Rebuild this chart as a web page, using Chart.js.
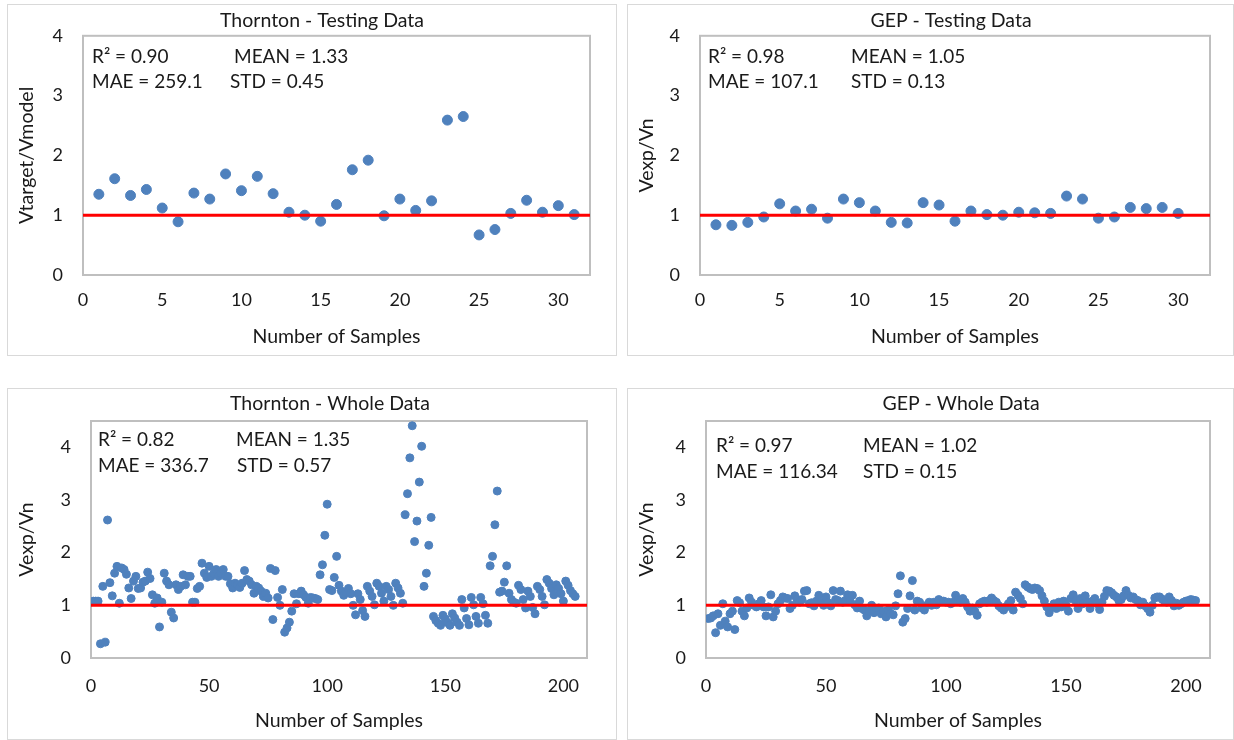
<!DOCTYPE html>
<html>
<head>
<meta charset="utf-8">
<script src="https://cdn.jsdelivr.net/npm/chart.js@4.4.0/dist/chart.umd.min.js"></script>
<style>
  body { margin: 0; background: #fff; width: 1234px; height: 740px; overflow: hidden; position: relative; }
  .panel { position: absolute; border: 1px solid #d9d9d9; background: #fff; }
  canvas { display: block; }
</style>
</head>
<body>
<div class="panel" style="left:7px;top:4px;width:608px;height:350px"><canvas id="thorntonTest" width="608" height="350"></canvas></div>
<div class="panel" style="left:627px;top:4px;width:605px;height:350px"><canvas id="gepTest" width="605" height="350"></canvas></div>
<div class="panel" style="left:7px;top:388px;width:608px;height:350px"><canvas id="thorntonWhole" width="608" height="350"></canvas></div>
<div class="panel" style="left:627px;top:388px;width:605px;height:350px"><canvas id="gepWhole" width="605" height="350"></canvas></div>
<script>
// -------------------------------------------------------------------
// Data (ratio per sample, sample number = index + 1)
// -------------------------------------------------------------------
const thorntonTest = [1.35, 1.61, 1.33, 1.43, 1.12, 0.89, 1.37, 1.27, 1.69, 1.41,
  1.65, 1.36, 1.05, 1.00, 0.90, 1.18, 1.76, 1.92, 0.99, 1.27,
  1.08, 1.24, 2.59, 2.65, 0.67, 0.76, 1.03, 1.25, 1.05, 1.16, 1.01];

const gepTest = [0.84, 0.83, 0.88, 0.97, 1.19, 1.07, 1.10, 0.95, 1.27, 1.21,
  1.07, 0.88, 0.87, 1.21, 1.17, 0.90, 1.07, 1.01, 1.00, 1.05,
  1.04, 1.03, 1.32, 1.27, 0.95, 0.97, 1.13, 1.11, 1.13, 1.03];

const thorntonWhole = [
  1.08, 1.08, 1.08, 0.27, 1.36, 0.30, 2.62, 1.43, 1.18, 1.61,
  1.74, 1.04, 1.71, 1.68, 1.59, 1.33, 1.13, 1.46, 1.55, 1.32,
  1.33, 1.44, 1.46, 1.63, 1.51, 1.20, 1.04, 1.14, 0.59, 1.06,
  1.61, 1.46, 1.39, 0.87, 0.76, 1.39, 1.30, 1.36, 1.58, 1.39,
  1.55, 1.55, 1.06, 1.06, 1.32, 1.36, 1.80, 1.61, 1.53, 1.74,
  1.55, 1.61, 1.68, 1.55, 1.61, 1.68, 1.55, 1.55, 1.41, 1.33,
  1.42, 1.39, 1.34, 1.42, 1.66, 1.49, 1.46, 1.39, 1.23, 1.36,
  1.33, 1.27, 1.17, 1.23, 1.14, 1.70, 0.73, 1.66, 1.15, 1.00,
  1.30, 0.49, 0.57, 0.68, 0.89, 1.22, 1.03, 1.22, 1.27, 1.20,
  1.15, 1.04, 1.15, 1.14, 1.13, 1.11, 1.58, 1.77, 2.33, 2.92,
  1.30, 1.28, 1.53, 1.93, 1.38, 1.27, 1.19, 1.25, 1.32, 1.22,
  1.00, 0.82, 1.22, 1.11, 0.90, 0.79, 1.36, 1.27, 1.17, 1.01,
  1.42, 1.36, 1.23, 1.08, 1.36, 1.30, 1.17, 1.00, 1.42, 1.33,
  1.23, 1.04, 2.72, 3.12, 3.80, 4.41, 2.21, 2.60, 3.34, 4.02,
  1.36, 1.61, 2.14, 2.67, 0.79, 0.71, 0.66, 0.62, 0.81, 0.74,
  0.67, 0.62, 0.84, 0.76, 0.68, 0.62, 1.11, 0.95, 0.75, 0.63,
  1.15, 1.01, 0.79, 0.66, 1.15, 1.03, 0.81, 0.66, 1.75, 1.93,
  2.53, 3.17, 1.25, 1.27, 1.44, 1.75, 1.23, 1.11, 1.06, 1.04,
  1.38, 1.30, 1.11, 0.95, 1.27, 1.17, 0.96, 0.84, 1.36, 1.30,
  1.17, 1.01, 1.49, 1.42, 1.32, 1.20, 1.39, 1.32, 1.22, 1.08,
  1.46, 1.38, 1.28, 1.22, 1.17];

const gepWhole = [
  0.75, 0.76, 0.80, 0.48, 0.84, 0.62, 1.03, 0.70, 0.59, 0.84,
  0.89, 0.54, 1.09, 1.05, 0.89, 0.80, 0.95, 1.14, 1.06, 1.00,
  0.97, 1.03, 1.09, 0.97, 0.80, 0.97, 1.20, 0.78, 0.89, 1.03,
  1.09, 1.16, 1.14, 1.13, 0.94, 1.00, 1.18, 1.11, 1.06, 1.11,
  1.27, 1.28, 1.03, 1.05, 0.99, 1.08, 1.19, 1.06, 1.00, 1.16,
  1.05, 0.99, 1.28, 1.11, 1.09, 1.27, 1.06, 1.09, 1.20, 1.08,
  1.19, 1.01, 0.95, 1.08, 0.94, 0.91, 0.80, 0.89, 1.00, 0.86,
  0.94, 0.95, 0.84, 0.89, 0.78, 0.91, 0.84, 0.82, 0.99, 1.22,
  1.56, 0.68, 0.75, 0.94, 1.18, 1.47, 0.91, 1.08, 1.06, 0.95,
  0.91, 1.00, 1.06, 1.00, 1.06, 1.01, 1.11, 1.08, 1.08, 1.06,
  1.06,
  1.03, 1.06, 1.19, 1.09, 1.06, 1.13, 1.06, 0.97, 0.89, 0.95,
  0.89, 0.81, 1.03, 1.06, 1.08, 1.06, 1.09, 1.14, 1.09, 1.06,
  0.99, 0.95, 0.91, 0.97, 1.03, 1.09, 0.91, 1.25, 1.19, 1.13,
  1.03, 1.39, 1.35, 1.32, 1.30, 1.33, 1.32, 1.28, 1.18, 1.08, 0.97,
  0.86, 0.97, 1.03, 0.94, 1.06, 0.97, 1.08, 1.00, 0.89, 1.13,
  1.20, 1.09, 0.94, 1.13, 1.03, 1.18, 1.06, 0.94, 1.08, 1.13,
  1.03, 0.92, 1.06, 1.17, 1.28, 1.27, 1.24, 1.19, 1.16, 1.09, 1.11,
  1.18, 1.28, 1.19, 1.14, 1.16, 1.11, 1.09, 1.01, 1.06, 0.99,
  0.94, 0.87, 1.00, 1.14, 1.16, 1.16, 1.12, 1.08, 1.06, 1.16, 1.09, 0.99, 1.04,
  1.00, 1.03, 1.06, 1.08, 1.09, 1.11, 1.10, 1.09];

const thorntonTestStats  = ["R² = 0.90", "MEAN = 1.33", "MAE = 259.1", "STD = 0.45"];
const gepTestStats       = ["R² = 0.98", "MEAN = 1.05", "MAE = 107.1", "STD = 0.13"];
const thorntonWholeStats = ["R² = 0.82", "MEAN = 1.35", "MAE = 336.7", "STD = 0.57"];
const gepWholeStats      = ["R² = 0.97", "MEAN = 1.02", "MAE = 116.34", "STD = 0.15"];

const REF_RATIO = 1;

// -------------------------------------------------------------------
// Style
// -------------------------------------------------------------------
const FONT  = "Lato, 'Open Sans', sans-serif";
const TEXT  = "#1a1a1a";
const BLUE  = "#4f81bd";
const RED   = "#ff0000";
const FRAME = "#bfbfbf";

function toPoints(vals) {
  return vals.map((v, i) => ({ x: i + 1, y: v }));
}

// plot frame, chart title and the R2 / MEAN / MAE / STD block
const statsPlugin = {
  id: "stats",
  beforeDatasetsDraw(chart) {
    const a = chart.chartArea, ctx = chart.ctx;
    ctx.save();
    ctx.strokeStyle = FRAME;
    ctx.lineWidth = 2;
    ctx.strokeRect(a.left, a.top, a.right - a.left, a.bottom - a.top);
    ctx.restore();
  },
  afterDraw(chart, args, opts) {
    const a = chart.chartArea, ctx = chart.ctx;
    ctx.save();
    ctx.fillStyle = TEXT;
    ctx.textBaseline = "middle";
    ctx.textAlign = "center";
    ctx.font = `19.5px ${FONT}`;
    ctx.fillText(opts.title, opts.titleX, opts.titleY);
    ctx.textAlign = "left";
    ctx.font = `19px ${FONT}`;
    opts.lines.forEach((t, i) => {
      const p = opts.pos[i];
      ctx.fillText(t, a.left + p[0], a.top + p[1]);
    });
    ctx.restore();
  }
};

function makeChart(id, p) {
  const step = p.xStep;
  new Chart(document.getElementById(id), {
    data: {
      datasets: [
        {
          type: "line",
          data: [{ x: 0, y: REF_RATIO }, { x: p.xMax, y: REF_RATIO }],
          borderColor: RED,
          borderWidth: 3,
          pointRadius: 0,
          order: 0
        },
        {
          type: "scatter",
          data: toPoints(p.values),
          backgroundColor: BLUE,
          borderColor: BLUE,
          pointRadius: p.radius,
          pointHoverRadius: p.radius,
          order: 1
        }
      ]
    },
    options: {
      responsive: false,
      animation: false,
      devicePixelRatio: 1,
      layout: { padding: p.pad },
      plugins: {
        legend: { display: false },
        tooltip: { enabled: false },
        title: { display: false },
        stats: { title: p.title, titleX: p.titleX, titleY: p.titleY, lines: p.stats, pos: p.statsPos }
      },
      scales: {
        x: {
          type: "linear",
          min: 0,
          max: p.xMax,
          afterBuildTicks: s => {
            const t = [];
            for (let v = 0; v <= p.xMax; v += step) t.push({ value: v });
            s.ticks = t;
          },
          afterFit: s => { s.height = p.xH; },
          grid: { display: false, drawTicks: false },
          border: { display: false },
          ticks: { autoSkip: false, maxRotation: 0, color: TEXT, padding: p.xTickPad,
                   font: { family: FONT, size: 18 } },
          title: { display: true, text: "Number of Samples", color: TEXT,
                   font: { family: FONT, size: 19.5 }, padding: { top: 0, bottom: 3 } }
        },
        y: {
          min: 0,
          max: p.yMax,
          afterBuildTicks: s => { s.ticks = s.ticks.filter(t => Number.isInteger(t.value)); },
          afterFit: s => { s.width = p.yW; },
          grid: { display: false, drawTicks: false },
          border: { display: false },
          ticks: { stepSize: 1, color: TEXT, padding: 20, font: { family: FONT, size: 18 } },
          title: { display: true, text: p.yTitle, color: TEXT,
                   font: { family: FONT, size: 19.5 }, padding: { top: 7, bottom: 0 } }
        }
      }
    },
    plugins: [statsPlugin]
  });
}

// -------------------------------------------------------------------
// Panels
// -------------------------------------------------------------------
makeChart("thorntonTest", {
  title: "Thornton - Testing Data", titleX: 314, titleY: 16, yTitle: "Vtarget/Vmodel",
  values: thorntonTest, xMax: 32, xStep: 5, yMax: 4, radius: 5,
  pad: { left: 0, right: 26, top: 30, bottom: 4 },
  yW: 75, xH: 76, xTickPad: 14,
  stats: thorntonTestStats, statsPos: [[9, 21], [151, 21], [9, 46], [147, 46]]
});

makeChart("gepTest", {
  title: "GEP - Testing Data", titleX: 323, titleY: 16, yTitle: "Vexp/Vn",
  values: gepTest, xMax: 32, xStep: 5, yMax: 4, radius: 5,
  pad: { left: 0, right: 23, top: 30, bottom: 4 },
  yW: 72, xH: 76, xTickPad: 14,
  stats: gepTestStats, statsPos: [[8, 21], [151, 21], [8, 46], [151, 46]]
});

makeChart("thorntonWhole", {
  title: "Thornton - Whole Data", titleX: 322, titleY: 15, yTitle: "Vexp/Vn",
  values: thorntonWhole, xMax: 210, xStep: 50, yMax: 4.5, radius: 4,
  pad: { left: 0, right: 29, top: 32, bottom: 4 },
  yW: 83, xH: 77, xTickPad: 17,
  stats: thorntonWholeStats, statsPos: [[7, 19], [145, 19], [7, 45], [146, 45]]
});

makeChart("gepWhole", {
  title: "GEP - Whole Data", titleX: 333, titleY: 15, yTitle: "Vexp/Vn",
  values: gepWhole, xMax: 210, xStep: 50, yMax: 4.5, radius: 4,
  pad: { left: 0, right: 23, top: 32, bottom: 4 },
  yW: 78, xH: 77, xTickPad: 17,
  stats: gepWholeStats, statsPos: [[10, 25], [157, 25], [10, 51], [157, 51]]
});
</script>
</body>
</html>
